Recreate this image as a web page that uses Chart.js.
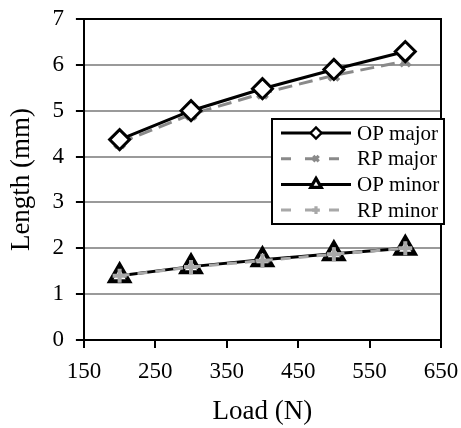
<!DOCTYPE html>
<html><head><meta charset="utf-8">
<script src="https://cdn.jsdelivr.net/npm/chart.js@4/dist/chart.umd.min.js"></script>
<style>html,body{margin:0;padding:0;background:#fff;}#wrap{width:461px;height:428px;}</style>
</head><body><div id="wrap"><canvas id="c" width="461" height="428"></canvas></div>
<script>
const loads = [200, 300, 400, 500, 600];
const opMajor = [4.37, 5.0, 5.48, 5.9, 6.29];
const rpMajor = [4.3, 4.92, 5.38, 5.77, 6.08];
const opMinor = [1.4, 1.6, 1.75, 1.88, 2.0];
const rpMinor = [1.4, 1.59, 1.73, 1.87, 2.0];
const xTicks = [150, 250, 350, 450, 550, 650];
const yTicks = [0, 1, 2, 3, 4, 5, 6, 7];

const pts = arr => loads.map((x, i) => ({x, y: arr[i]}));
const FONT = "'Liberation Serif', 'Times New Roman', serif";

const frame = {
  id: 'frame',
  afterDraw(chart) {
    const {ctx, chartArea: a} = chart;
    ctx.save();
    ctx.strokeStyle = '#000'; ctx.lineWidth = 2;
    ctx.beginPath();
    ctx.moveTo(a.left, a.top); ctx.lineTo(a.right, a.top); ctx.lineTo(a.right, a.bottom);
    ctx.stroke();
    // legend
    const bx = 272, by = 119, bw = 172, bh = 105;
    ctx.fillStyle = '#fff'; ctx.fillRect(bx, by, bw, bh);
    ctx.lineWidth = 2; ctx.strokeStyle = '#000'; ctx.strokeRect(bx, by, bw, bh);
    ctx.font = '21px ' + FONT; ctx.textBaseline = 'middle'; ctx.textAlign = 'left';
    chart.data.datasets.forEach((ds, i) => {
      const y = by + 14 + i * 25.7;
      const x0 = bx + 9, x1 = bx + 79;
      ctx.save();
      ctx.strokeStyle = ds.borderColor; ctx.lineWidth = ds.borderWidth;
      ctx.setLineDash(ds.legendDash || ds.borderDash || []);
      ctx.beginPath(); ctx.moveTo(x0, y); ctx.lineTo(x1, y); ctx.stroke();
      ctx.restore();
      ctx.save();
      ctx.fillStyle = ds.pointBackgroundColor; ctx.strokeStyle = ds.pointBorderColor; ctx.lineWidth = ds.pointBorderWidth * 0.8;
      Chart.helpers.drawPoint(ctx, {pointStyle: ds.pointStyle, radius: ds.pointRadius * 0.55, borderWidth: ds.pointBorderWidth * 0.8}, (x0 + x1) / 2, y);
      ctx.restore();
      ctx.fillStyle = '#000';
      ctx.fillText(ds.label, bx + 85, y + 1);
    });
    ctx.restore();
  }
};

new Chart(document.getElementById('c'), {
  type: 'line',
  data: {
    datasets: [
      {label: 'OP major', data: pts(opMajor), borderColor: '#000', borderWidth: 3,
       pointStyle: 'rectRot', pointRadius: 10, pointBackgroundColor: '#fff', pointBorderColor: '#000', pointBorderWidth: 3, order: 1},
      {label: 'RP major', data: pts(rpMajor), borderColor: '#8a8a8a', borderWidth: 3, borderDash: [14, 7], legendDash: [10, 14],
       pointStyle: 'crossRot', pointRadius: 7, pointBackgroundColor: '#8a8a8a', pointBorderColor: '#8a8a8a', pointBorderWidth: 4, order: 2},
      {label: 'OP minor', data: pts(opMinor), borderColor: '#000', borderWidth: 3,
       pointStyle: 'triangle', pointRadius: 11, pointBackgroundColor: '#fff', pointBorderColor: '#000', pointBorderWidth: 4, order: 4},
      {label: 'RP minor', data: pts(rpMinor), borderColor: '#a8a8a8', borderWidth: 3, borderDash: [10, 8], legendDash: [10, 14],
       pointStyle: 'cross', pointRadius: 7, pointBackgroundColor: '#a8a8a8', pointBorderColor: '#a8a8a8', pointBorderWidth: 4, order: 3}
    ]
  },
  options: {
    animation: false, responsive: false,
    layout: {padding: {top: 19, right: 20, left: 0, bottom: 0}},
    plugins: {legend: {display: false}, tooltip: {enabled: false}},
    scales: {
      x: {type: 'linear', min: 150, max: 650,
        afterBuildTicks: s => { s.ticks = xTicks.map(v => ({value: v})); },
        afterFit: s => { s.paddingLeft = 0; s.paddingRight = 0; },
        grid: {drawOnChartArea: false, color: '#000', tickLength: 8, lineWidth: 2},
        border: {color: '#000', width: 2},
        ticks: {color: '#000', font: {family: FONT, size: 23}, padding: 10, maxRotation: 0},
        title: {display: true, text: 'Load (N)', color: '#000', font: {family: FONT, size: 27}, padding: {top: 0, bottom: 0}}
      },
      y: {min: 0, max: 7,
        afterBuildTicks: s => { s.ticks = yTicks.map(v => ({value: v})); },
        afterFit: s => { s.paddingTop = 0; s.paddingBottom = 0; },
        grid: {color: '#9a9a9a', lineWidth: 2, tickColor: '#000', tickLength: 8},
        border: {color: '#000', width: 2},
        ticks: {color: '#000', font: {family: FONT, size: 23}, padding: 12},
        title: {display: true, text: 'Length (mm)', color: '#000', font: {family: FONT, size: 27}, padding: {bottom: 2, top: 6}}
      }
    }
  },
  plugins: [frame]
});
</script></body></html>
